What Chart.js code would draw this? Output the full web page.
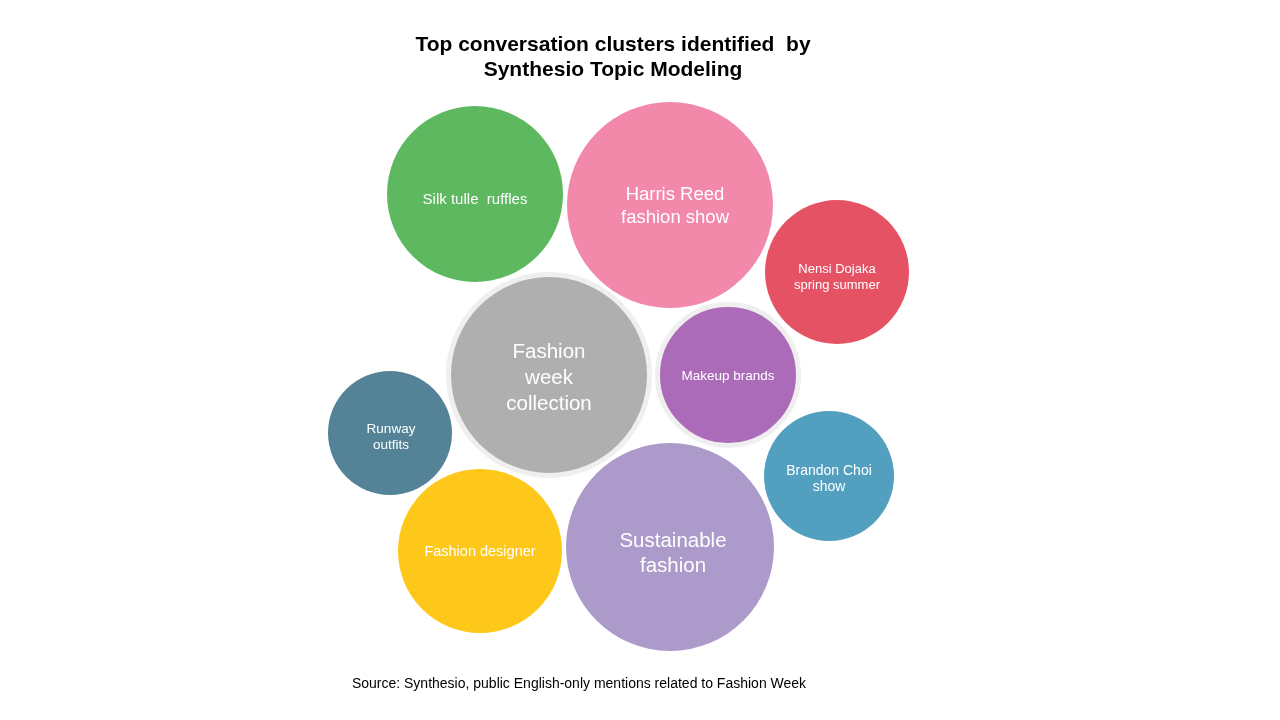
<!DOCTYPE html>
<html>
<head>
<meta charset="utf-8">
<script src="https://cdn.jsdelivr.net/npm/chart.js@4/dist/chart.umd.min.js"></script>
<style>
  html, body { margin: 0; padding: 0; background: #fff; }
  #wrap { position: relative; width: 1280px; height: 720px; }
  #title {
    position: absolute; left: 0; top: 31px; width: 1226px;
    text-align: center; font: bold 21px "Liberation Sans", Arial, sans-serif;
    line-height: 25px; color: #000; white-space: pre;
  }
  #source {
    position: absolute; left: 0; top: 675px; width: 1158px;
    text-align: center; font: 14px "Liberation Sans", Arial, sans-serif;
    color: #000;
  }
</style>
</head>
<body>
<div id="wrap">
  <canvas id="myChart" width="1280" height="720"></canvas>
  <div id="title">Top conversation clusters identified  by
Synthesio Topic Modeling</div>
  <div id="source">Source: Synthesio, public English-only mentions related to Fashion Week</div>
</div>
<script>
// clusters (label lines split by \n)
const topics = [
  "Silk tulle  ruffles",
  "Harris Reed\nfashion show",
  "Nensi Dojaka\nspring summer",
  "Fashion\nweek\ncollection",
  "Makeup brands",
  "Runway\noutfits",
  "Brandon Choi\nshow",
  "Fashion designer",
  "Sustainable\nfashion",
];
// bubble position (x, y) and size (radius)
const xs = [475, 670, 837, 549, 728, 390, 829, 480, 670];
const ys = [194, 205, 272, 375, 375, 433, 476, 551, 547];
const sizes = [88, 103, 72, 98, 68, 62, 65, 82, 104];
// clusters drawn with a light ring
const ringed = [false, false, false, true, true, false, false, false, false];

const colors = [
  "#5db85f",
  "#f288aa",
  "#e45264",
  "#afafaf",
  "#ac6bb8",
  "#548296",
  "#539fbf",
  "#fdc81a",
  "#ab9aca",
];
const labelSizes = [15, 18.5, 13, 20.5, 13.5, 13.5, 14, 14.5, 20.5];
const lineHeights = [18, 23, 16, 26, 16, 16, 16, 17, 25];
const labelShiftX = [0, 5, 0, 0, 0, 1, 0, 0, 3];
const labelShift = [5, 0, 4, 2, 0, 3, 2, 0, 6];

const RING = 5;

const bubbleData = topics.map((t, i) => ({
  x: xs[i],
  y: ys[i],
  r: ringed[i] ? sizes[i] + RING / 2 : sizes[i],
}));

const labelPlugin = {
  id: "bubbleLabels",
  afterDatasetsDraw(chart) {
    const ctx = chart.ctx;
    const meta = chart.getDatasetMeta(0);
    ctx.save();
    ctx.fillStyle = "#ffffff";
    ctx.textAlign = "center";
    ctx.textBaseline = "middle";
    meta.data.forEach((pt, i) => {
      const lines = topics[i].split("\n");
      ctx.font = labelSizes[i] + 'px "Liberation Sans", Arial, sans-serif';
      const lh = lineHeights[i];
      const y0 = pt.y - ((lines.length - 1) * lh) / 2 + 1 + labelShift[i];
      lines.forEach((line, j) => {
        ctx.fillText(line, pt.x + labelShiftX[i], y0 + j * lh);
      });
    });
    ctx.restore();
  },
};

const chart = new Chart(document.getElementById("myChart"), {
  type: "bubble",
  data: {
    datasets: [
      {
        data: bubbleData,
        backgroundColor: colors,
        borderColor: ringed.map((r) => (r ? "#efefef" : "rgba(0,0,0,0)")),
        borderWidth: ringed.map((r) => (r ? RING : 0)),
      },
    ],
  },
  options: {
    responsive: false,
    animation: false,
    devicePixelRatio: 1,
    layout: { padding: 0, autoPadding: false },
    scales: {
      x: { type: "linear", min: 0, max: 1280, display: false },
      y: { type: "linear", min: 0, max: 720, reverse: true, display: false },
    },
    plugins: {
      legend: { display: false },
      tooltip: { enabled: false },
    },
    events: [],
  },
  plugins: [labelPlugin],
});
</script>
</body>
</html>
